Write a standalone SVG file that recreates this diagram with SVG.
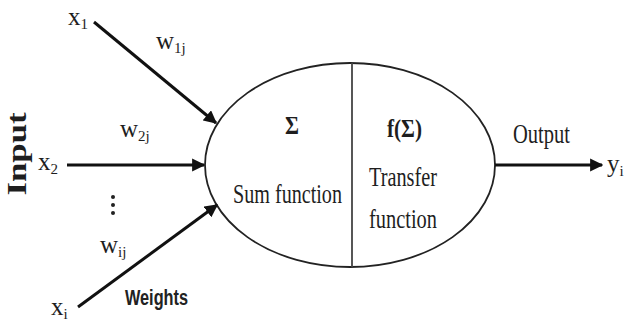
<svg xmlns="http://www.w3.org/2000/svg" width="628" height="326" viewBox="0 0 628 326">
  <defs>
    <marker id="arrow" viewBox="0 0 10 10" refX="9" refY="5" markerWidth="4.4" markerHeight="4.4" orient="auto" markerUnits="strokeWidth">
      <path d="M0,0 L10,5 L0,10 Z" fill="#111"/>
    </marker>
    <style>
      .serif { font-family: "Liberation Serif", "Times New Roman", serif; fill: #1e1e1e; }
      .sans { font-family: "Liberation Sans Narrow", "Liberation Sans", Arial, sans-serif; fill: #222; font-weight: bold; }
      .sym { font-size: 25px; }
      .sub { font-size: 15px; }
      .lbl { font-size: 27px; }
      .edge { stroke: #111; stroke-width: 3; fill: none; marker-end: url(#arrow); }
    </style>
  </defs>
  <rect width="628" height="326" fill="#fff"/>

  <!-- neuron body: summation half and transfer half -->
  <g id="neuron">
    <ellipse cx="350" cy="165" rx="145" ry="102" fill="#fff" stroke="#222" stroke-width="1.8"/>
    <line x1="352" y1="63" x2="352" y2="267" stroke="#444" stroke-width="1.8"/>
  </g>

  <g id="sum">
    <text class="serif" x="292" y="134" font-size="25" font-weight="bold" text-anchor="middle" textLength="14" lengthAdjust="spacingAndGlyphs">Σ</text>
    <text class="serif lbl" x="233" y="203" textLength="109" lengthAdjust="spacingAndGlyphs">Sum function</text>
  </g>

  <g id="transfer">
    <text class="serif" x="387" y="137" font-size="25" font-weight="bold" textLength="35" lengthAdjust="spacingAndGlyphs">f(Σ)</text>
    <text class="serif lbl" x="369" y="186" textLength="68" lengthAdjust="spacingAndGlyphs">Transfer</text>
    <text class="serif lbl" x="369" y="228" textLength="68" lengthAdjust="spacingAndGlyphs">function</text>
  </g>

  <!-- inputs -->
  <g id="input-label">
    <text class="serif" transform="translate(26,154) rotate(-90)" font-size="27" font-weight="bold" text-anchor="middle" textLength="83" lengthAdjust="spacingAndGlyphs">Input</text>
  </g>
  <g id="x1">
    <text class="serif sym" x="68" y="25">x</text>
    <text class="serif sub" x="80.5" y="29">1</text>
  </g>
  <g id="x2">
    <text class="serif sym" x="38" y="170">x</text>
    <text class="serif sub" x="50.5" y="174">2</text>
  </g>
  <g id="xi">
    <text class="serif sym" x="51" y="315">x</text>
    <text class="serif sub" x="63.5" y="319">i</text>
  </g>
  <g id="dots">
    <circle cx="113" cy="197" r="2" fill="#222"/>
    <circle cx="113" cy="205" r="2" fill="#222"/>
    <circle cx="113" cy="213" r="2" fill="#222"/>
  </g>

  <!-- weights -->
  <g id="w1j">
    <text class="serif sym" x="156" y="49">w</text>
    <text class="serif sub" x="174" y="53">1j</text>
  </g>
  <g id="w2j">
    <text class="serif sym" x="120" y="137">w</text>
    <text class="serif sub" x="138" y="141">2j</text>
  </g>
  <g id="wij">
    <text class="serif sym" x="100" y="253">w</text>
    <text class="serif sub" x="118" y="257">ij</text>
  </g>
  <g id="weights-label">
    <text class="sans" x="125" y="305" font-size="22" textLength="63" lengthAdjust="spacingAndGlyphs">Weights</text>
  </g>

  <!-- output -->
  <g id="output-label">
    <text class="serif lbl" x="513" y="143" textLength="57" lengthAdjust="spacingAndGlyphs">Output</text>
  </g>
  <g id="yi">
    <text class="serif sym" x="607" y="172">y</text>
    <text class="serif sub" x="619.5" y="176">i</text>
  </g>

  <g id="connectors">
    <line class="edge" x1="94" y1="22" x2="216" y2="123"/>
    <line class="edge" x1="67" y1="165" x2="204" y2="165"/>
    <line class="edge" x1="78" y1="307" x2="217" y2="205"/>
    <line class="edge" x1="495" y1="165" x2="602" y2="165"/>
  </g>
</svg>
